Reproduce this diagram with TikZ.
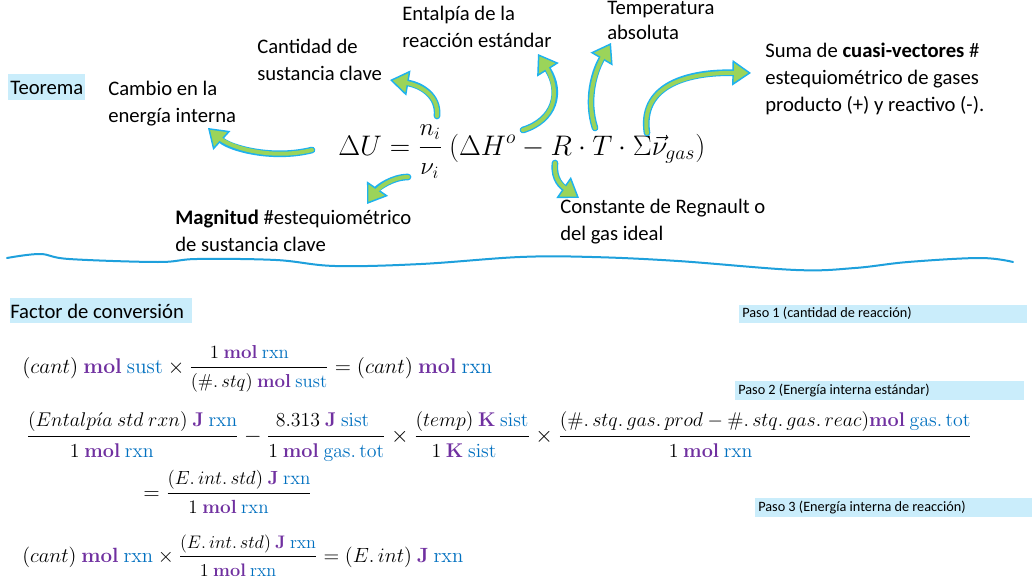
\documentclass[tikz,border=0pt]{standalone}
\usepackage{amsmath}
\usepackage{graphicx}
\usepackage[no-math]{fontspec}
\setmainfont{Carlito}
\usetikzlibrary{arrows.meta}
\definecolor{upur}{RGB}{112,48,160}
\definecolor{ublu}{RGB}{0,112,192}
\definecolor{hl}{RGB}{202,237,251}
\definecolor{acyan}{RGB}{30,178,238}
\definecolor{agreen}{RGB}{155,212,90}
\definecolor{wavec}{RGB}{30,160,220}
\newlength{\px}\setlength{\px}{0.75pt}
\newcommand{\umol}{{\color{upur}\mathbf{mol}}}
\newcommand{\uJ}{{\color{upur}\mathbf{J}}}
\newcommand{\uK}{{\color{upur}\mathbf{K}}}
\newcommand{\unitb}[1]{{\color{ublu}\mathrm{#1}}}
\newcommand{\ffrac}[2]{\dfrac{\scalebox{0.88}{$\displaystyle #1$}}{\scalebox{0.88}{$\displaystyle #2$}}}
\newcommand{\barrow}[1]{\draw[aout] #1; \draw[ain] #1;}
\begin{document}
\begin{tikzpicture}[x=0.75pt,y=-0.75pt,
  lbl/.style={anchor=base west, inner sep=0pt, font=\fontsize{15.5}{20}\selectfont},
  paso/.style={anchor=base west, inner sep=0pt, font=\fontsize{10.7}{12}\selectfont},
  eqn/.style={anchor=base west, inner sep=0pt, font=\fontsize{15}{18}\selectfont},
  hlbox/.style={fill=hl, draw=none},
  aout/.style={draw=acyan, line width=5pt, line cap=round,
    -{Triangle[length=14pt 0, width=19pt 0, fill=agreen, line width=1.1pt 0 0]}},
  ain/.style={draw=agreen, line width=3pt, line cap=round, shorten >=10pt},
  wavy/.style={draw=wavec, line width=1.5pt, line cap=round}]
\fill[white] (0,0) rectangle (1033,578);
\useasboundingbox (0,0) rectangle (1033,578);

% ---- theorem labels
\fill[hlbox] (8,74) rectangle (85,100);
\node[lbl] (teorema) at (10,94) {Teorema};
\node[lbl] (cambio1) at (108,95) {Cambio en la};
\node[lbl] (cambio2) at (108,122) {energía interna};
\node[lbl] (cant1) at (257,53) {Cantidad de};
\node[lbl] (cant2) at (257,80) {sustancia clave};
\node[lbl] (ent1) at (402,21) {Entalpía de la};
\node[lbl] (ent2) at (402,47) {reacción estándar};
\node[lbl] (temp1) at (607,14) {Temperatura};
\node[lbl] (temp2) at (607,39) {absoluta};
\node[lbl] (suma1) at (765,57) {Suma de \textbf{cuasi-vectores} \#};
\node[lbl] (suma2) at (765,84) {estequiométrico de gases};
\node[lbl] (suma3) at (765,111) {producto (+) y reactivo (-).};
\node[lbl] (mag1) at (175,224) {\textbf{Magnitud} \#estequiométrico};
\node[lbl] (mag2) at (175,251) {de sustancia clave};
\node[lbl] (const1) at (560,213) {Constante de Regnault o};
\node[lbl] (const2) at (560,240) {del gas ideal};

% ---- main equation
\node[eqn, font=\fontsize{22}{26}\selectfont] (eqmain) at (338,155)
  {\resizebox{367\px}{!}{$\displaystyle \Delta U=\ffrac{n_i}{\nu_i}\ (\Delta H^{o}-R\cdot T\cdot \Sigma\vec{\nu}_{gas})$}};

% ---- arrows
\coordinate (t1) at (312,150); \coordinate (h1) at (208,128);
\coordinate (t2) at (437,116); \coordinate (h2) at (390,80);
\coordinate (t3) at (408,177); \coordinate (h3) at (367,204);
\coordinate (t4) at (523,130); \coordinate (h4) at (538,54);
\coordinate (t5) at (595,128); \coordinate (h5) at (611,43);
\coordinate (t6) at (647,133); \coordinate (h6) at (751,73);
\coordinate (t7) at (555,163); \coordinate (h7) at (579,198);
\barrow{(t1) .. controls (272,160) and (230,148) .. (h1)}
\barrow{(t2) .. controls (439,95) and (420,85) .. (h2)}
\barrow{(t3) .. controls (392,177) and (378,188) .. (h3)}
\barrow{(t4) .. controls (555,120) and (562,92) .. (h4)}
\barrow{(t5) .. controls (586,100) and (594,72) .. (h5)}
\barrow{(t6) .. controls (640,88) and (682,72) .. (h6)}
\barrow{(t7) .. controls (553,180) and (563,187) .. (h7)}

% ---- separator
\draw[wavy] plot[smooth, tension=0.6] coordinates {(7,258) (40,254) (69,259) (158,262) (197,259) (276,260) (335,266) (421,264) (520,257) (592,257) (678,261) (796,270) (855,268) (908,262) (980,258) (1013,262)};

% ---- conversion factor
\fill[hlbox] (10,298) rectangle (192,323);
\node[lbl] (factor) at (10,318) {Factor de conversión};
\fill[hlbox] (739,305) rectangle (1027,323);
\node[paso] (paso1) at (742,317) {Paso 1 (cantidad de reacción)};
\fill[hlbox] (735,381) rectangle (1024,400);
\node[paso] (paso2) at (738,394) {Paso 2 (Energía interna estándar)};
\fill[hlbox] (755,498) rectangle (1032,517);
\node[paso] (paso3) at (758,511) {Paso 3 (Energía interna de reacción)};

\node[eqn] (eq1) at (22,373) {\resizebox{470\px}{!}{$\displaystyle (cant)\ \umol\ \unitb{sust}\times\ffrac{1\ \umol\ \unitb{rxn}}{(\#.\,stq)\ \umol\ \unitb{sust}}=(cant)\ \umol\ \unitb{rxn}$}};

\node[eqn] (eq2a) at (26,442) {\resizebox{946\px}{!}{$\displaystyle \ffrac{(Entalp\acute{\imath}a\ std\ rxn)\ \uJ\ \unitb{rxn}}{1\ \umol\ \unitb{rxn}}-\ffrac{8.313\ \uJ\ \unitb{sist}}{1\ \umol\ \unitb{gas.\,tot}}\times\ffrac{(temp)\ \uK\ \unitb{sist}}{1\ \uK\ \unitb{sist}}\times\ffrac{(\#.\,stq.\,gas.\,prod-\#.\,stq.\,gas.\,reac)\umol\ \unitb{gas.\,tot}}{1\ \umol\ \unitb{rxn}}$}};

\node[eqn] (eq2b) at (143,499) {\resizebox{169\px}{!}{$\displaystyle =\ffrac{(E.\,int.\,std)\ \uJ\ \unitb{rxn}}{1\ \umol\ \unitb{rxn}}$}};

\node[eqn] (eq3) at (22,562) {\resizebox{441\px}{!}{$\displaystyle (cant)\ \umol\ \unitb{rxn}\times\ffrac{(E.\,int.\,std)\ \uJ\ \unitb{rxn}}{1\ \umol\ \unitb{rxn}}=(E.\,int)\ \uJ\ \unitb{rxn}$}};
\end{tikzpicture}
\end{document}
